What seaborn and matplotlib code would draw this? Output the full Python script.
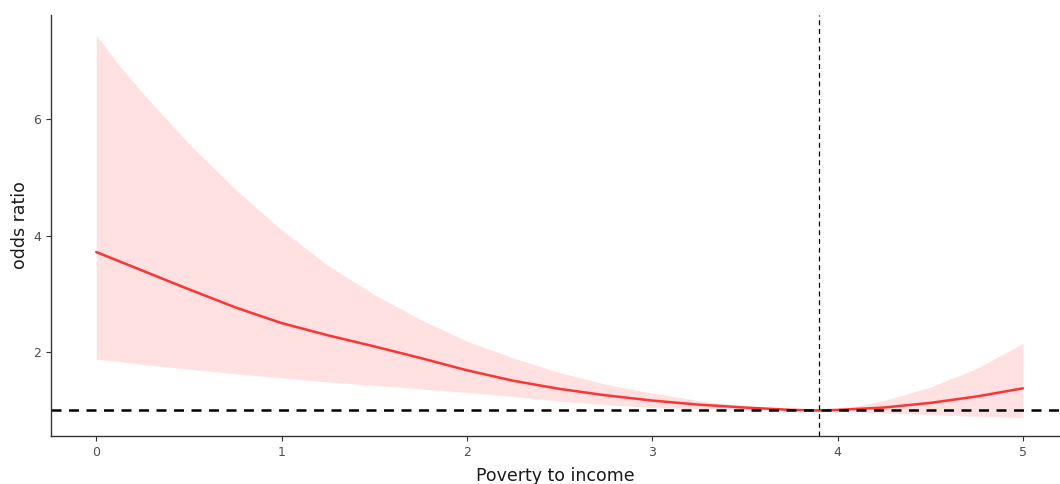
import numpy as np
import pandas as pd
import matplotlib
matplotlib.use("Agg")
import matplotlib.pyplot as plt
import seaborn as sns

# values
pir = [0, 0.125, 0.25, 0.5, 0.75, 1.0, 1.25, 1.5, 1.75, 2.0, 2.25, 2.5, 2.75, 3.0,
       3.25, 3.5, 3.75, 3.9, 4.0, 4.25, 4.5, 4.75, 5.0]
odds = [3.72, 3.56, 3.40, 3.08, 2.77, 2.50, 2.29, 2.10, 1.90, 1.69, 1.51, 1.37, 1.26,
        1.17, 1.10, 1.05, 1.01, 1.00, 1.01, 1.05, 1.13, 1.24, 1.38]
upper = [7.44, 6.92, 6.45, 5.58, 4.80, 4.10, 3.49, 2.99, 2.56, 2.19, 1.90, 1.65, 1.45,
         1.30, 1.17, 1.08, 1.02, 1.00, 1.01, 1.17, 1.40, 1.72, 2.15]
lower = [1.88, 1.84, 1.79, 1.71, 1.63, 1.56, 1.49, 1.43, 1.37, 1.31, 1.24, 1.16, 1.10,
         1.05, 1.03, 1.01, 1.00, 1.00, 0.99, 0.96, 0.93, 0.90, 0.88]
ref_x = 3.9
ref_y = 1

df = pd.DataFrame({'pir': pir, 'odds': odds, 'upper': upper, 'lower': lower})

sns.set_theme(style="ticks")
plt.rcParams['font.family'] = ['DejaVu Sans']

fig = plt.figure(figsize=(10.6, 4.84), dpi=100)
ax = fig.add_axes([0.048, 0.099, 0.952, 0.870])

ax.fill_between(df['pir'], df['lower'], df['upper'], color='#ffe1e1', linewidth=0)
sns.lineplot(x='pir', y='odds', data=df, color='#ff3333', linewidth=1.8, ax=ax)
ax.axhline(ref_y, color='black', linestyle=(0, (4, 3)), linewidth=1.8)
ax.axvline(ref_x, color='black', linestyle=(0, (4, 3)), linewidth=0.9)

ax.set_xlim(-0.245, 5.2)
ax.set_ylim(0.56, 7.79)
ax.set_xticks([0, 1, 2, 3, 4, 5])
ax.set_yticks([2, 4, 6])
ax.tick_params(axis='both', labelsize=9, labelcolor='#4d4d4d', color='#333333',
               length=3.5, width=0.8)
for s in ['left', 'bottom']:
    ax.spines[s].set_color('#333333')
    ax.spines[s].set_linewidth(1.0)
sns.despine(ax=ax)

ax.set_xlabel("Poverty to income", fontsize=12.5, color='#1a1a1a', labelpad=6)
ax.set_ylabel("odds ratio", fontsize=12.5, color='#1a1a1a', labelpad=3)

fig.savefig("out.png", dpi=100)
